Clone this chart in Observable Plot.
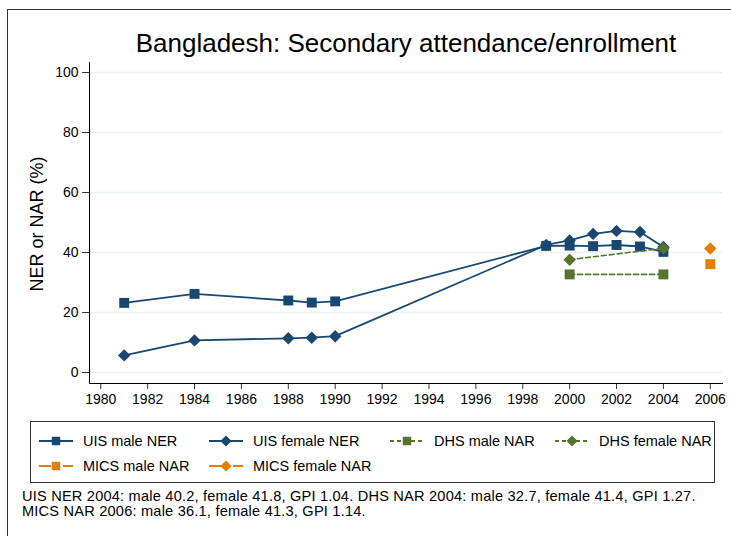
<!DOCTYPE html>
<html>
<head>
<meta charset="utf-8">
<script src="https://cdn.jsdelivr.net/npm/d3@7"></script>
<script src="https://cdn.jsdelivr.net/npm/@observablehq/plot@0.6"></script>
<style>
  body { margin: 0; background: #fff; font-family: "Liberation Sans", Arial, sans-serif; color: #000; }
  #wrap { position: relative; width: 731px; height: 536px; overflow: hidden; background: #fff; }
  #frame { position: absolute; left: 7px; top: 9px; width: 900px; height: 700px; border-left: 1px solid #333; border-top: 1px solid #333; }
  #chart { position: absolute; left: 0; top: 0; }
  #title { position: absolute; left: 106px; width: 600px; top: 30px; line-height: 26px; font-size: 26px; text-align: center; white-space: nowrap; }
  #ylab { position: absolute; left: -113.5px; width: 300px; top: 214.5px; line-height: 18px; font-size: 18px; text-align: center; transform: rotate(-90deg); white-space: nowrap; }
  #legend { position: absolute; left: 30px; top: 421px; width: 685px; height: 62px; border: 1px solid #333; box-sizing: border-box; background: #fff; }
  .item { position: absolute; display: flex; align-items: center; height: 20px; font-size: 14.5px; white-space: nowrap; }
  .item svg { margin-right: 10px; }
  #caption { position: absolute; left: 22px; top: 489px; font-size: 14.6px; line-height: 14.6px; letter-spacing: 0.2px; white-space: nowrap; }
</style>
</head>
<body>
<div id="wrap">
  <div id="frame"></div>
  <div id="chart"></div>
  <div id="title">Bangladesh: Secondary attendance/enrollment</div>
  <div id="ylab">NER or NAR (%)</div>
  <div id="legend"></div>
  <div id="caption">UIS NER 2004: male 40.2, female 41.8, GPI 1.04. DHS NAR 2004: male 32.7, female 41.4, GPI 1.27.<br>MICS NAR 2006: male 36.1, female 41.3, GPI 1.14.</div>
</div>
<script>
// ---- data ----
const uisYears = [1981, 1984, 1988, 1989, 1990, 1999, 2000, 2001, 2002, 2003, 2004];
const uisMale = [23.2, 26.2, 24.0, 23.3, 23.7, 42.2, 42.3, 42.1, 42.5, 42.0, 40.2];
const uisFemale = [5.7, 10.7, 11.4, 11.6, 12.1, 42.5, 44.0, 46.2, 47.2, 46.8, 41.8];
const dhsYears = [2000, 2004];
const dhsMale = [32.7, 32.7];
const dhsFemale = [37.6, 41.4];
const micsYears = [2006];
const micsMale = [36.1];
const micsFemale = [41.3];

const xTicks = [1980, 1982, 1984, 1986, 1988, 1990, 1992, 1994, 1996, 1998, 2000, 2002, 2004, 2006];
const yTicks = [0, 20, 40, 60, 80, 100];

const legendLabels = ["UIS male NER", "UIS female NER", "DHS male NAR", "DHS female NAR", "MICS male NAR", "MICS female NAR"];
const legendColors = ["#1a476f", "#1a476f", "#55752f", "#55752f", "#e37e00", "#e37e00"];
const legendSymbols = ["square", "diamond2", "square", "diamond2", "square", "diamond2"];
const legendDash = ["none", "none", "4,3", "4,3", "12,5,2,5", "12,5,2,5"];

const navy = "#1a476f", green = "#55752f", orange = "#e37e00";

const rows = (years, vals) => years.map((year, i) => ({year, value: vals[i]}));
const uM = rows(uisYears, uisMale), uF = rows(uisYears, uisFemale);
const dM = rows(dhsYears, dhsMale), dF = rows(dhsYears, dhsFemale);
const mM = rows(micsYears, micsMale), mF = rows(micsYears, micsFemale);

const R = 5.6;
const chart = Plot.plot({
  width: 731,
  height: 420,
  marginLeft: 89,
  marginRight: 9,
  marginTop: 62,
  marginBottom: 37,
  style: {background: "transparent", fontFamily: "'Liberation Sans', Arial, sans-serif", color: "#000", overflow: "visible"},
  x: {domain: [1979.52, 2006.52]},
  y: {domain: [-3.67, 103.33]},
  marks: [
    Plot.gridY(yTicks, {stroke: "#eaf2f3", strokeOpacity: 1, strokeWidth: 1.5}),
    Plot.axisY(yTicks, {tickSize: 7, tickPadding: 4, fontSize: 14, label: null, stroke: "#333"}),
    Plot.axisX(xTicks, {tickSize: 6, tickPadding: 5, fontSize: 14, label: null, tickFormat: d => String(d), stroke: "#333"}),
    Plot.frame({anchor: "left", stroke: "#000"}),
    Plot.frame({anchor: "bottom", stroke: "#000"}),
    Plot.line(uM, {x: "year", y: "value", stroke: navy, strokeWidth: 1.8}),
    Plot.line(uF, {x: "year", y: "value", stroke: navy, strokeWidth: 1.8}),
    Plot.dot(uM, {x: "year", y: "value", symbol: "square", r: R, fill: navy}),
    Plot.dot(uF, {x: "year", y: "value", symbol: "diamond2", r: R, fill: navy}),
    Plot.line(dM, {x: "year", y: "value", stroke: green, strokeWidth: 1.6, strokeDasharray: "5,3"}),
    Plot.line(dF, {x: "year", y: "value", stroke: green, strokeWidth: 1.6, strokeDasharray: "5,3"}),
    Plot.dot(dM, {x: "year", y: "value", symbol: "square", r: R, fill: green}),
    Plot.dot(dF, {x: "year", y: "value", symbol: "diamond2", r: R, fill: green}),
    Plot.dot(mM, {x: "year", y: "value", symbol: "square", r: R, fill: orange}),
    Plot.dot(mF, {x: "year", y: "value", symbol: "diamond2", r: R, fill: orange})
  ]
});
document.getElementById("chart").appendChild(chart);

// ---- legend ----
const colLeft = [8, 178, 359, 524];
const rowTop = [9, 34];
const legend = d3.select("#legend");
legendLabels.forEach((label, i) => {
  const item = legend.append("div").attr("class", "item")
    .style("left", colLeft[i % 4] + "px")
    .style("top", rowTop[Math.floor(i / 4)] + "px");
  const svg = item.append("svg").attr("width", 34).attr("height", 16);
  svg.append("line").attr("x1", 0).attr("x2", 34).attr("y1", 8).attr("y2", 8)
    .attr("stroke", legendColors[i]).attr("stroke-width", 1.8)
    .attr("stroke-dasharray", legendDash[i]);
  const sym = legendSymbols[i] === "square" ? d3.symbolSquare : d3.symbolDiamond2;
  svg.append("path").attr("d", d3.symbol(sym, legendSymbols[i] === "square" ? 72 : 80)())
    .attr("transform", "translate(17,8)").attr("fill", legendColors[i]);
  item.append("span").text(label);
});
</script>
</body>
</html>
